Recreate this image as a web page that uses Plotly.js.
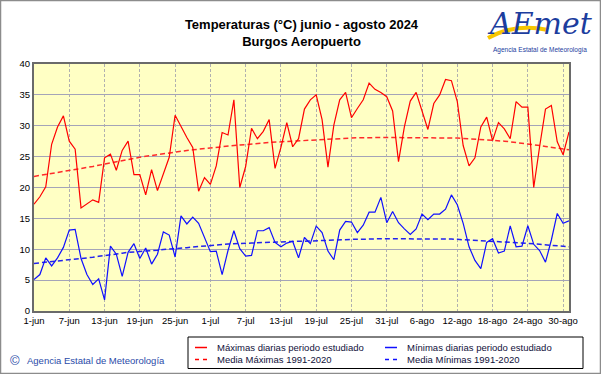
<!DOCTYPE html>
<html>
<head>
<meta charset="utf-8">
<script src="https://cdn.plot.ly/plotly-3.0.1.min.js"></script>
<style>
html,body{margin:0;padding:0;background:#ffffff;}
#chart{width:601px;height:374px;}
</style>
</head>
<body>
<div id="chart"></div>
<script>
// ---- data ----
const startDate = '2024-06-01';
const endDate = '2024-08-31';
const tickDates = ['2024-06-01','2024-06-07','2024-06-13','2024-06-19','2024-06-25','2024-07-01','2024-07-07','2024-07-13','2024-07-19','2024-07-25','2024-07-31','2024-08-06','2024-08-12','2024-08-18','2024-08-24','2024-08-30'];
const tickLabels = ['1-jun','7-jun','13-jun','19-jun','25-jun','1-jul','7-jul','13-jul','19-jul','25-jul','31-jul','6-ago','12-ago','18-ago','24-ago','30-ago'];

const maxDaily = [17.3,18.5,20.1,27.0,29.8,31.6,27.5,26.2,16.7,17.4,
  18.0,17.6,24.8,25.4,22.8,26.0,27.5,22.1,22.1,18.8,
  22.9,19.5,22.2,24.9,31.7,29.8,28.1,26.5,19.4,21.6,
  20.5,23.5,28.9,28.5,34.2,20.0,23.4,29.6,27.9,29.1,
  31.0,23.1,26.5,30.5,26.6,27.9,32.7,34.2,35.0,31.0,
  23.3,30.1,34.2,35.4,31.3,32.8,34.2,36.9,35.9,35.4,
  34.7,32.4,24.2,29.8,34.0,35.4,32.5,29.4,33.6,35.0,
  37.5,37.3,33.9,26.8,23.5,24.8,29.8,31.4,27.6,30.5,
  29.5,27.9,33.9,33.0,33.0,20.0,26.6,32.7,33.3,27.4,
  25.3,29.0];

const minDaily = [5.1,5.9,8.6,7.3,8.6,10.3,13.1,13.2,8.5,5.9,
  4.3,5.2,1.8,10.5,9.2,5.6,9.5,10.9,8.5,10.2,
  7.6,9.2,12.8,12.3,8.75,15.4,14.1,15.2,14.2,12.0,
  9.6,9.7,5.9,9.8,13.0,10.1,8.9,9.0,13.0,13.0,
  13.5,11.1,10.4,11.0,11.3,8.6,11.9,10.9,13.75,12.7,
  9.7,8.3,13.1,14.5,14.4,12.7,13.9,16.0,16.0,18.4,
  14.3,16.1,14.3,13.3,12.4,13.3,15.7,14.8,15.7,15.7,
  16.5,18.8,17.2,14.2,10.4,8.2,6.85,11.1,11.7,9.4,
  9.7,13.8,10.4,10.5,13.8,10.8,9.8,7.9,11.5,15.8,
  14.2,14.6];

const meanMax = [21.8,21.95,22.1,22.25,22.4,22.55,22.7,22.85,23.0,23.2,
  23.4,23.6,23.8,24.0,24.2,24.4,24.6,24.75,24.9,25.05,
  25.2,25.35,25.5,25.65,25.8,25.9,26.0,26.1,26.2,26.3,
  26.4,26.55,26.7,26.8,26.85,26.9,26.95,27.0,27.1,27.2,
  27.3,27.35,27.4,27.45,27.5,27.55,27.6,27.65,27.7,27.8,
  27.9,27.9,27.95,28.0,28.0,28.05,28.05,28.1,28.1,28.1,
  28.1,28.1,28.1,28.1,28.1,28.1,28.1,28.1,28.1,28.1,
  28.1,28.05,28.0,27.95,27.9,27.85,27.8,27.7,27.65,27.6,
  27.5,27.4,27.3,27.2,27.05,26.9,26.8,26.65,26.5,26.4,
  26.2,26.1];

const meanMin = [7.7,7.8,7.85,7.95,8.0,8.1,8.2,8.3,8.4,8.55,
  8.7,8.85,8.95,9.1,9.2,9.35,9.5,9.55,9.65,9.7,
  9.8,9.85,9.95,10.0,10.1,10.2,10.25,10.35,10.45,10.5,
  10.6,10.7,10.8,10.85,10.9,10.9,10.95,11.0,11.05,11.1,
  11.1,11.15,11.2,11.2,11.25,11.3,11.3,11.35,11.4,11.45,
  11.5,11.5,11.55,11.55,11.6,11.6,11.65,11.65,11.7,11.7,
  11.7,11.7,11.75,11.75,11.75,11.75,11.75,11.7,11.7,11.7,
  11.65,11.65,11.6,11.55,11.5,11.45,11.4,11.35,11.3,11.3,
  11.25,11.2,11.1,11.0,10.95,10.9,10.8,10.7,10.65,10.55,
  10.45,10.4];

const legendNames = ['Máximas diarias periodo estudiado','Mínimas diarias periodo estudiado','Media Máximas 1991-2020','Media Mínimas 1991-2020'];

// ---- build dates (x categories) ----
const dates = [];
{
  const d0 = new Date(startDate + 'T00:00:00Z');
  for (let i = 0; i < maxDaily.length; i++) {
    const d = new Date(d0.getTime() + i * 86400000);
    dates.push(d.toISOString().slice(0, 10));
  }
}

const RED = '#ff0000';
const BLUE = '#1010ff';
const FONT = 'Liberation Sans, Arial, sans-serif';

const traces = [
  {x: dates, y: meanMax, type: 'scatter', mode: 'lines', name: legendNames[2],
   line: {color: '#ff2a2a', width: 1.5, dash: '5px,3px'}, showlegend: false, hoverinfo: 'skip'},
  {x: dates, y: meanMin, type: 'scatter', mode: 'lines', name: legendNames[3],
   line: {color: '#2222ee', width: 1.5, dash: '5px,3px'}, showlegend: false, hoverinfo: 'skip'},
  {x: dates, y: maxDaily, type: 'scatter', mode: 'lines', name: legendNames[0],
   line: {color: RED, width: 1.2}, showlegend: false},
  {x: dates, y: minDaily, type: 'scatter', mode: 'lines', name: legendNames[1],
   line: {color: BLUE, width: 1.2}, showlegend: false}
];

// helpers: pixel -> paper (plot area 34..569 x, 64..311 y)
const L = 34, R = 32, T = 64, B = 63, W = 601, H = 374;
const PW = W - L - R, PH = H - T - B;
const px = x => (x - L) / PW;
const py = y => (H - B - y) / PH;

const legFont = {family: FONT, size: 9.5, color: '#10103a'};
const row1 = 347.5, row2 = 359.5;
const shapes = [
  // outer frame
  {type: 'rect', xref: 'paper', yref: 'paper', x0: px(0.5), x1: px(600.5), y0: py(373.5), y1: py(0.5),
   line: {color: '#8c8c8c', width: 1.5}, layer: 'above'},
  // legend box
  {type: 'rect', xref: 'paper', yref: 'paper', x0: px(188), x1: px(583), y0: py(368.5), y1: py(337),
   line: {color: '#000000', width: 1}, fillcolor: '#ffffff', layer: 'above'},
  {type: 'line', xref: 'paper', yref: 'paper', x0: px(195), x1: px(207), y0: py(row1), y1: py(row1),
   line: {color: RED, width: 1.5}},
  {type: 'line', xref: 'paper', yref: 'paper', x0: px(385), x1: px(397), y0: py(row1), y1: py(row1),
   line: {color: BLUE, width: 1.5}},
  {type: 'line', xref: 'paper', yref: 'paper', x0: px(195), x1: px(207), y0: py(row2), y1: py(row2),
   line: {color: RED, width: 1.5, dash: '4px,4px'}},
  {type: 'line', xref: 'paper', yref: 'paper', x0: px(385), x1: px(397), y0: py(row2), y1: py(row2),
   line: {color: BLUE, width: 1.5, dash: '4px,4px'}},
  // logo swoosh
  {type: 'path', xref: 'paper', yref: 'paper',
   path: 'M ' + px(488) + ' ' + py(38) + ' Q ' + px(515) + ' ' + py(23) + ' ' + px(548) + ' ' + py(30),
   line: {color: '#f7c600', width: 4}, layer: 'above'}
];

const annotations = [
  {xref: 'paper', yref: 'paper', x: px(215), y: py(row1), xanchor: 'left', yanchor: 'middle', showarrow: false,
   text: legendNames[0], font: legFont},
  {xref: 'paper', yref: 'paper', x: px(405), y: py(row1), xanchor: 'left', yanchor: 'middle', showarrow: false,
   text: legendNames[1], font: legFont},
  {xref: 'paper', yref: 'paper', x: px(215), y: py(row2), xanchor: 'left', yanchor: 'middle', showarrow: false,
   text: legendNames[2], font: legFont},
  {xref: 'paper', yref: 'paper', x: px(405), y: py(row2), xanchor: 'left', yanchor: 'middle', showarrow: false,
   text: legendNames[3], font: legFont},
  {xref: 'paper', yref: 'paper', x: px(14.5), y: py(360.5), xanchor: 'center', yanchor: 'middle', showarrow: false,
   text: '©', font: {family: FONT, size: 13, color: '#2a4aa8'}},
  {xref: 'paper', yref: 'paper', x: px(25), y: py(360.5), xanchor: 'left', yanchor: 'middle', showarrow: false,
   text: 'Agencia Estatal de Meteorología', font: {family: FONT, size: 9.5, color: '#2a4aa8'}},
  // logo
  {xref: 'paper', yref: 'paper', x: px(540), y: py(23), xanchor: 'center', yanchor: 'middle', showarrow: false,
   text: '<i>AEmet</i>', font: {family: 'DejaVu Serif, serif', size: 30, color: '#1c3d9e'}},
  {xref: 'paper', yref: 'paper', x: px(540), y: py(49.5), xanchor: 'center', yanchor: 'middle', showarrow: false,
   text: 'Agencia Estatal de Meteorología', font: {family: FONT, size: 6.5, color: '#1c3d9e'}}
];

const layout = {
  width: W, height: H,
  margin: {l: L, r: R, t: T, b: B, pad: 0},
  paper_bgcolor: '#ffffff',
  plot_bgcolor: '#ffffc4',
  showlegend: false,
  title: {
    text: '<b>Temperaturas (°C) junio - agosto 2024</b><br><b>Burgos Aeropuerto</b>',
    font: {family: FONT, size: 13, color: '#000000'},
    xref: 'paper', x: 0.5, xanchor: 'center',
    yref: 'container', y: 1 - 29 / H, yanchor: 'top'
  },
  xaxis: {
    type: 'date',
    range: [startDate, endDate],
    tickvals: tickDates, ticktext: tickLabels,
    showgrid: true, gridcolor: '#b0b0b0', gridwidth: 1, griddash: '3px,2px',
    showline: true, linecolor: '#6a6a6a', linewidth: 2, mirror: true,
    ticks: '', zeroline: false,
    tickfont: {family: FONT, size: 9.5, color: '#000000'},
    fixedrange: true
  },
  yaxis: {
    range: [0, 40], tickmode: 'linear', tick0: 0, dtick: 5,
    showgrid: true, gridcolor: '#a4a4b8', gridwidth: 1,
    showline: true, linecolor: '#6a6a6a', linewidth: 2, mirror: true,
    ticks: '', zeroline: false,
    tickfont: {family: FONT, size: 9.5, color: '#000000'},
    fixedrange: true
  },
  shapes: shapes,
  annotations: annotations
};

Plotly.newPlot('chart', traces, layout, {staticPlot: true, displayModeBar: false});
</script>
</body>
</html>
